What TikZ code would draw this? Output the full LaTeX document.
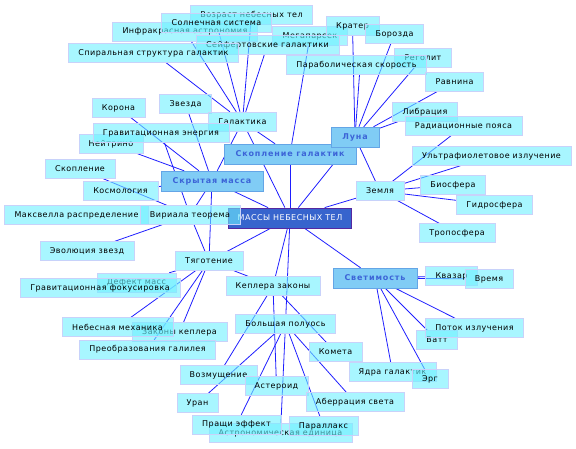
\documentclass[tikz,border=0pt]{standalone}
\usepackage{fontspec}
\setmainfont{DejaVu Sans}
\newfontfamily\leaffont[LetterSpace=6]{DejaVu Sans}
\newfontfamily\hubfont[LetterSpace=11]{DejaVu Sans}
\usetikzlibrary{backgrounds}
\definecolor{linkblue}{RGB}{30,30,255}
\definecolor{leaffill}{RGB}{110,240,255}
\definecolor{leafline}{RGB}{200,210,250}
\definecolor{hubfill}{RGB}{128,204,245}
\definecolor{hubline}{RGB}{100,165,230}
\definecolor{hubtext}{RGB}{60,100,215}
\definecolor{rootfill}{RGB}{55,100,205}
\definecolor{rootline}{RGB}{85,40,160}

\begin{document}
\begin{tikzpicture}[x=1pt, y=-1pt,
  leaf/.style={draw=leafline, fill=leaffill, fill opacity=0.6, text opacity=1,
    inner xsep=10pt, inner ysep=0pt, minimum height=19pt, font=\leaffont\fontsize{8}{9}\selectfont},
  hub/.style={draw=hubline, fill=hubfill, text=hubtext, inner xsep=11.5pt, inner ysep=0pt,
    minimum height=20pt, font=\hubfont\bfseries\fontsize{8}{9}\selectfont},
  root/.style={draw=rootline, fill=rootfill, text=white, line width=0.8pt, inner xsep=9pt,
    inner ysep=0pt, minimum height=20pt, font=\leaffont\fontsize{8}{9}\selectfont},
  link/.style={draw=linkblue, line width=0.8pt}]
\path[use as bounding box] (0,0) rectangle (576,448);

% centre and main branches
\node[root] (root) at (290,218) {МАССЫ НЕБЕСНЫХ ТЕЛ};
\node[hub] (skopgal) at (290,154) {Скопление галактик};
\node[hub] (skrmass) at (212,181) {Скрытая масса};
\node[hub] (luna) at (355,137) {Луна};
\node[hub] (svetim) at (375,278) {Светимость};

% top
\node[leaf] (megapc) at (310,36) {Мегапарсек};
\node[leaf] (vozrast) at (251.5,15) {Возраст небесных тел};
\node[leaf] (infra) at (185,31.5) {Инфракрасная астрономия};
\node[leaf] (solnsys) at (216.5,23) {Солнечная система};
\node[leaf] (seyfert) at (267.5,45) {Сейфертовские галактики};
\node[leaf] (spiral) at (153.5,53) {Спиральная структура галактик};
\node[leaf] (krater) at (352.5,26) {Кратер};
\node[leaf] (borozda) at (394.5,34) {Борозда};
\node[leaf] (regolit) at (423,57.5) {Реголит};
\node[leaf] (parabol) at (356.5,65) {Параболическая скорость};
\node[leaf] (ravnina) at (454.5,82) {Равнина};
\node[leaf] (libr) at (425,112) {Либрация};
\node[leaf] (radpoyas) at (463.5,126) {Радиационные пояса};

% right
\node[leaf] (uf) at (491.5,156) {Ультрафиолетовое излучение};
\node[leaf] (biosf) at (453,185) {Биосфера};
\node[leaf] (gidrosf) at (494.5,205) {Гидросфера};
\node[leaf] (troposf) at (457,233) {Тропосфера};
\node[leaf] (zemlya) at (380,191) {Земля};

% left
\node[leaf] (korona) at (118.5,108) {Корона};
\node[leaf] (zvezda) at (185.5,104) {Звезда};
\node[leaf] (galaktika) at (242.5,121.5) {Галактика};
\node[leaf] (neitrino) at (111,144) {Нейтрино};
\node[leaf] (gravenerg) at (161,133) {Гравитационная энергия};
\node[leaf] (skoplenie) at (80,169) {Скопление};
\node[leaf] (kosmol) at (120.5,190.5) {Космология};
\node[leaf] (maxwell) at (76.5,215) {Максвелла распределение};
\node[leaf] (virial) at (190,215) {Вириала теорема};
\node[leaf] (evol) at (87,251) {Эволюция звезд};
\node[leaf] (tyagot) at (209,261) {Тяготение};
\node[leaf] (defekt) at (136.5,282.5) {Дефект масс};
\node[leaf] (gravfok) at (100,288) {Гравитационная фокусировка};
\node[leaf] (zakkepl) at (179.5,332) {Законы кеплера};
\node[leaf] (nebmeh) at (117.5,327) {Небесная механика};
\node[leaf] (galilei) at (147.5,349.5) {Преобразования галилея};

% bottom
\node[leaf] (keplzak) at (273,286) {Кеплера законы};
\node[leaf] (bolpol) at (285.5,324) {Большая полуось};
\node[leaf] (kometa) at (335.5,352) {Комета};
\node[leaf] (vozm) at (218.5,375) {Возмущение};
\node[leaf] (asteroid) at (276.5,386) {Астероид};
\node[leaf] (uran) at (197.5,403) {Уран};
\node[leaf] (aberr) at (355,402) {Аберрация света};
\node[leaf] (astred) at (280.5,433) {Астрономическая единица};
\node[leaf] (prashch) at (236.5,424.5) {Пращи эффект};
\node[leaf] (parallaks) at (323.5,426) {Параллакс};
\node[leaf] (yadra) at (392.5,372) {Ядра галактик};
\node[leaf] (erg) at (430,379) {Эрг};
\node[leaf] (vatt) at (437,340) {Ватт};
\node[leaf] (potok) at (474.5,328) {Поток излучения};
\node[leaf] (kvazar) at (451.5,276) {Квазар};
\node[leaf] (vremya) at (489,279) {Время};

\begin{scope}[on background layer]
\foreach \t in {skopgal,skrmass,luna,zemlya,svetim,tyagot,keplzak,bolpol,galaktika}
  \draw[link] (root) -- (\t);
\foreach \t in {spiral,infra,solnsys,vozrast,seyfert,skopgal,skrmass}
  \draw[link] (galaktika) -- (\t);
\draw[link] (skopgal) -- (megapc);
\foreach \t in {krater,borozda,regolit,ravnina,libr,zemlya}
  \draw[link] (luna) -- (\t);
\draw[link] ([xshift=3pt]parabol.south) -- (luna);
\foreach \t in {radpoyas,uf,biosf,gidrosf,troposf}
  \draw[link] (zemlya) -- (\t);
\foreach \t in {korona,zvezda,neitrino,kosmol,virial,tyagot}
  \draw[link] (skrmass) -- (\t);
\draw[link] (gravenerg) -- (virial);
\draw[link] (skoplenie) -- (virial);
\draw[link] (virial) -- (evol);
\draw[link] (virial) -- (tyagot);
\foreach \t in {defekt,nebmeh,galilei,zakkepl,keplzak}
  \draw[link] (tyagot) -- (\t);
\foreach \t in {vozm,asteroid,kometa}
  \draw[link] (keplzak) -- (\t);
\foreach \t in {uran,prashch,astred,parallaks,aberr}
  \draw[link] (bolpol) -- (\t);
\foreach \t in {kvazar,vremya,potok,vatt,erg,yadra}
  \draw[link] (svetim) -- (\t);
\end{scope}
\end{tikzpicture}
\end{document}
